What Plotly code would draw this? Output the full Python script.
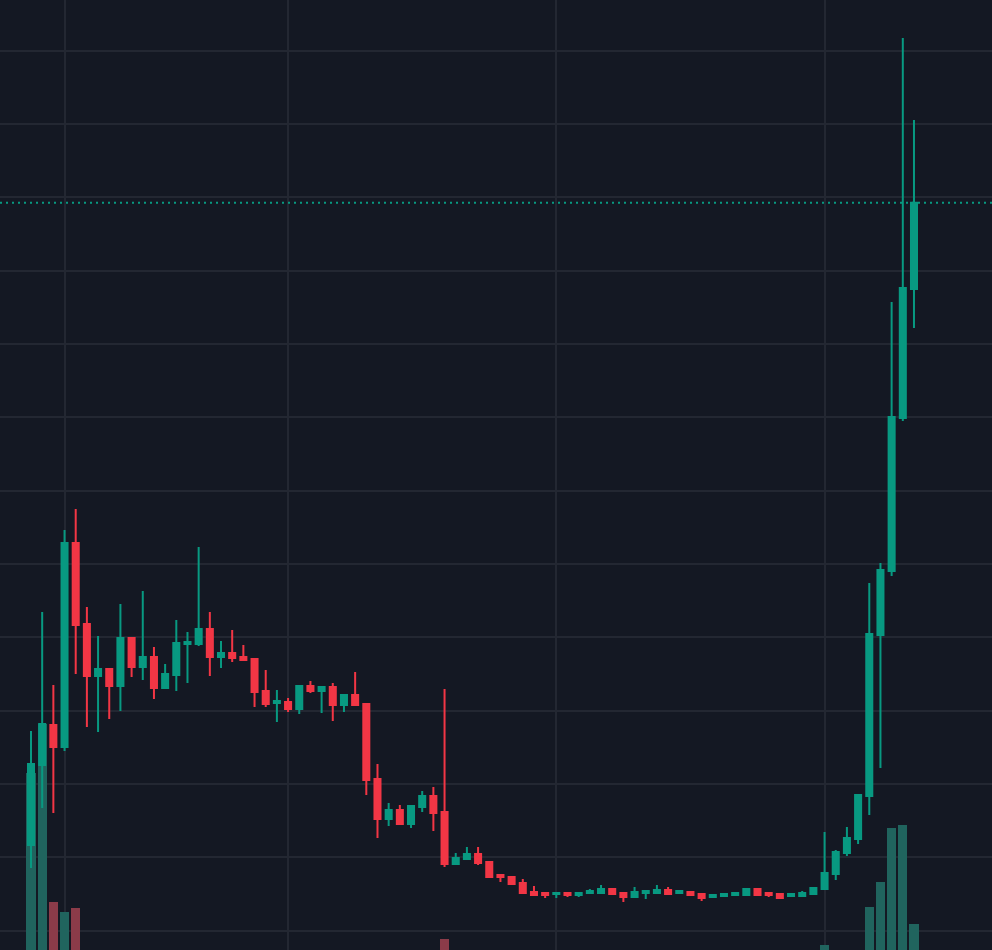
import plotly.graph_objects as go

# candle index (time slots)
idx = list(range(80))

open_ = [43.37, 65.19, 76.10, 70.10, 125.74, 103.65, 89.46, 91.37, 86.74, 99.83,
         91.92, 94.65, 86.19, 89.74, 98.19, 98.19, 102.28, 94.65, 95.74, 94.65,
         94.10, 85.37, 82.10, 82.37, 80.46, 86.74, 85.37, 86.46, 81.55, 84.28,
         81.83, 61.37, 50.46, 52.92, 49.10, 53.74, 56.74, 52.37, 38.19, 39.55,
         40.92, 38.74, 35.19, 34.65, 33.01, 30.55, 30.28, 30.01, 30.28, 29.74,
         30.28, 30.28, 31.37, 30.28, 29.19, 30.28, 30.28, 31.10, 30.28, 30.55,
         30.01, 29.19, 29.46, 29.74, 29.74, 31.37, 30.28, 30.01, 29.46, 29.46,
         30.01, 31.37, 35.46, 41.19, 45.01, 56.74, 100.65, 118.10, 159.83, 195.01]

high = [74.46, 106.92, 87.01, 129.28, 135.01, 108.28, 100.37, 91.65, 109.10, 99.83,
        112.65, 97.37, 92.74, 104.74, 101.46, 124.65, 106.92, 99.01, 102.01, 97.92,
        94.10, 91.10, 85.65, 83.46, 86.74, 88.10, 86.74, 87.55, 84.28, 90.55,
        81.83, 65.46, 54.83, 54.28, 54.28, 58.10, 59.19, 85.92, 41.19, 42.83,
        42.83, 39.01, 35.19, 34.65, 34.10, 32.19, 30.55, 30.55, 30.28, 30.28,
        31.37, 32.46, 31.37, 30.28, 31.92, 30.83, 32.46, 31.92, 30.83, 30.55,
        30.01, 29.74, 30.01, 30.28, 31.65, 31.37, 30.28, 30.01, 30.01, 30.83,
        31.92, 46.92, 42.01, 48.28, 57.01, 114.83, 120.28, 191.46, 263.46, 241.10]

low = [37.10, 53.46, 52.10, 69.01, 90.01, 75.56, 74.19, 77.74, 79.92, 89.19,
       88.37, 83.19, 86.19, 85.37, 87.55, 97.65, 89.46, 91.65, 93.28, 93.56,
       81.01, 81.01, 76.92, 79.65, 79.10, 84.83, 79.37, 77.19, 79.65, 81.55,
       57.01, 45.28, 48.55, 49.10, 48.01, 52.37, 47.19, 37.37, 37.92, 39.55,
       37.92, 34.37, 33.28, 32.74, 30.28, 29.46, 28.92, 28.92, 29.19, 29.19,
       30.28, 30.28, 30.01, 27.83, 29.19, 28.65, 30.28, 30.01, 30.01, 29.74,
       28.10, 28.92, 29.46, 29.74, 29.74, 29.74, 29.19, 28.92, 29.46, 29.46,
       30.01, 31.37, 33.83, 40.37, 43.65, 51.55, 64.37, 116.74, 159.01, 184.37]

close = [65.46, 76.37, 70.10, 125.74, 103.37, 89.46, 91.37, 86.74, 99.83, 91.92,
         94.65, 86.19, 90.01, 98.46, 98.74, 102.28, 94.65, 95.74, 94.37, 93.83,
         85.10, 81.83, 82.65, 80.46, 86.74, 85.37, 86.46, 81.55, 84.28, 81.55,
         61.10, 50.46, 52.92, 49.10, 54.01, 56.74, 52.10, 38.19, 39.83, 40.92,
         38.46, 34.65, 34.65, 32.74, 30.28, 29.74, 29.74, 30.28, 29.74, 30.28,
         30.83, 31.37, 30.01, 29.19, 30.55, 30.83, 31.10, 30.01, 30.83, 29.74,
         28.92, 29.74, 30.01, 30.28, 31.37, 29.74, 29.74, 28.92, 30.01, 30.28,
         31.65, 35.74, 41.46, 45.28, 57.01, 100.92, 118.37, 160.10, 195.28, 218.55]

# volume (only visible bars; others negligible)
volume = [1770, 2260, 480, 380, 420, 0, 0, 0, 0, 0,
          0, 0, 0, 0, 0, 0, 0, 0, 0, 0,
          0, 0, 0, 0, 0, 0, 0, 0, 0, 0,
          0, 0, 0, 0, 0, 0, 0, 110, 0, 0,
          0, 0, 0, 0, 0, 0, 0, 0, 0, 0,
          0, 0, 0, 0, 0, 0, 0, 0, 0, 0,
          0, 0, 0, 0, 0, 0, 0, 0, 0, 0,
          0, 50, 0, 0, 0, 430, 680, 1220, 1250, 260]

time_grid = [3, 23, 47, 71]

UP = "#089981"
DOWN = "#f23645"
VOL_UP = "#20645e"
VOL_DOWN = "#8b3b49"
BG = "#141823"
GRID = "#232732"

vol_colors = [VOL_UP if c >= o else VOL_DOWN for o, c in zip(open_, close)]

fig = go.Figure()
fig.add_trace(go.Bar(
    x=idx, y=volume, marker=dict(color=vol_colors, line=dict(width=0)),
    width=0.82, yaxis="y", hoverinfo="skip", showlegend=False,
))
fig.add_trace(go.Candlestick(
    x=idx, open=open_, high=high, low=low, close=close, yaxis="y2",
    increasing=dict(line=dict(color=UP, width=2), fillcolor=UP),
    decreasing=dict(line=dict(color=DOWN, width=2), fillcolor=DOWN),
    showlegend=False,
))

fig.add_shape(type="line", xref="paper", x0=0, x1=1, yref="y2",
              y0=close[-1], y1=close[-1],
              line=dict(color=UP, width=2, dash="2px,4px"))

fig.update_layout(
    width=992, height=950, autosize=False,
    margin=dict(l=0, r=0, t=0, b=0),
    paper_bgcolor=BG, plot_bgcolor=BG,
    boxgap=0.46, boxgroupgap=0,
    bargap=0,
    showlegend=False,
    xaxis=dict(range=[-2.774, 85.98], tickvals=time_grid, showticklabels=False,
               showgrid=True, gridcolor=GRID, gridwidth=2, zeroline=False,
               rangeslider=dict(visible=False), ticks=""),
    yaxis=dict(range=[0, 9500], showgrid=False, showticklabels=False,
               zeroline=False, ticks=""),
    yaxis2=dict(range=[14.74, 273.83], overlaying="y", tick0=0, dtick=20,
                showgrid=True, gridcolor=GRID, gridwidth=2,
                showticklabels=False, zeroline=False, ticks=""),
)

fig.write_html(
    "out.html",
    config={"displayModeBar": False},
    post_script="document.body.style.margin='0';document.body.style.overflow='hidden';"
                "document.body.style.background='%s';" % BG,
)
